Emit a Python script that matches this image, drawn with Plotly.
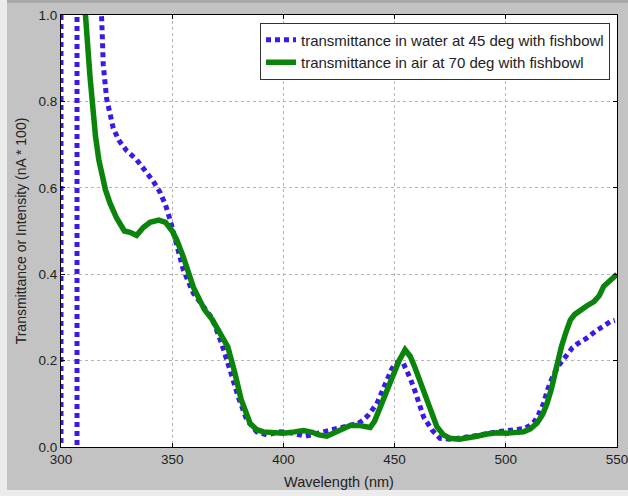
import plotly.graph_objects as go

# Data
water_x = [300, 300, 307.2, 307.2, 312, 315, 317, 318.3, 319, 320.5, 322, 323.5, 326, 329.5, 334, 338.5,
           341.5, 344.5, 347, 349, 352, 355, 359.5, 364, 367.7, 370, 372.2, 376, 379.7, 383.5, 388,
           392.5, 398.5, 403, 406, 410, 414, 418, 421.7, 426, 430, 433.7, 436, 438.2, 442, 444, 446.4,
           448.5, 450.2, 452, 453.9, 455.5, 457, 459, 461, 463, 466.7, 470.4, 475, 479.4, 484, 488.4,
           493, 497, 501, 504.9, 508.5, 510.9, 513, 514.6, 516.9, 519, 521.4, 524, 527.4, 530, 532,
           536.4, 540.9, 544, 547, 549]
water_y = [1.5, -0.5, -0.5, 2.0, 1.45, 1.2, 1.07, 0.99, 0.885, 0.807, 0.77, 0.738, 0.71, 0.686, 0.665,
           0.637, 0.615, 0.59, 0.56, 0.527, 0.463, 0.41, 0.356, 0.325, 0.30, 0.27, 0.24, 0.178, 0.116,
           0.063, 0.035, 0.028, 0.035, 0.033, 0.03, 0.025, 0.03, 0.035, 0.04, 0.045, 0.05, 0.055, 0.063,
           0.074, 0.10, 0.125, 0.155, 0.178, 0.194, 0.198, 0.194, 0.178, 0.159, 0.132, 0.10, 0.07, 0.04,
           0.02, 0.018, 0.02, 0.024, 0.028, 0.033, 0.036, 0.038, 0.04, 0.043, 0.05, 0.06, 0.074, 0.10,
           0.136, 0.167, 0.19, 0.213, 0.23, 0.238, 0.252, 0.27, 0.28, 0.29, 0.293]

air_x = [309.5, 311, 313, 314, 315.5, 317, 318.5, 320, 322, 325, 328.5, 331, 334, 337, 340, 344, 347,
         350, 352, 355, 359.5, 364.5, 368, 371, 375, 378, 381, 385, 388, 391, 395, 400, 405, 409, 413,
         416, 419.5, 424, 430, 434, 439, 441, 443.5, 446.5, 449.5, 452, 454.7, 457, 459, 461.5, 464.5,
         467, 469, 472, 475, 479, 482.5, 487, 491.5, 496, 500.5, 504, 508, 511, 514, 516.5, 518.5,
         520.5, 522, 523.5, 525, 527, 529, 531, 533.5, 536.5, 539.5, 542, 544, 546.5, 549, 550]
air_y = [1.25, 1.0, 0.86, 0.80, 0.72, 0.665, 0.625, 0.595, 0.565, 0.53, 0.50, 0.497, 0.49, 0.508, 0.52,
         0.525, 0.52, 0.50, 0.48, 0.44, 0.37, 0.318, 0.295, 0.268, 0.232, 0.175, 0.11, 0.055, 0.04,
         0.035, 0.033, 0.032, 0.035, 0.038, 0.034, 0.028, 0.025, 0.036, 0.05, 0.05, 0.045, 0.06, 0.093,
         0.13, 0.17, 0.20, 0.225, 0.21, 0.186, 0.15, 0.108, 0.07, 0.047, 0.028, 0.02, 0.018, 0.02, 0.025,
         0.03, 0.033, 0.032, 0.032, 0.035, 0.042, 0.055, 0.075, 0.10, 0.135, 0.17, 0.20, 0.232, 0.265,
         0.294, 0.307, 0.317, 0.327, 0.336, 0.35, 0.372, 0.385, 0.395, 0.40]

x_ticks = [300, 350, 400, 450, 500, 550]
y_ticks = [0.0, 0.2, 0.4, 0.6, 0.8, 1.0]
y_tick_text = ["0.0", "0.2", "0.4", "0.6", "0.8", "1.0"]

FONT = "Liberation Sans, Arial, sans-serif"

fig = go.Figure()
fig.add_trace(go.Scatter(
    x=water_x, y=water_y, mode="lines",
    name="transmittance in water at 45 deg with fishbowl",
    line=dict(color="#3a1ae6", width=5, dash="5px,4px"),
))
fig.add_trace(go.Scatter(
    x=air_x, y=air_y, mode="lines",
    name="transmittance in air at 70 deg with fishbowl",
    line=dict(color="#0a840a", width=5.5),
))

L, R, T, B = 61, 11, 15, 49
W, H = 628, 496
pw, ph = W - L - R, H - T - B


def px_x(p):
    return (p - L) / pw


def px_y(p):
    return (H - B - p) / ph


shapes = [
    dict(type="rect", xref="paper", yref="paper", x0=px_x(0), x1=px_x(7), y0=px_y(H), y1=px_y(0),
         fillcolor="#ececec", line_width=0, layer="below"),
    dict(type="rect", xref="paper", yref="paper", x0=px_x(0), x1=px_x(W), y0=px_y(H), y1=px_y(490),
         fillcolor="#ececec", line_width=0, layer="below"),
    dict(type="rect", xref="paper", yref="paper", x0=px_x(7), x1=px_x(W), y0=px_y(3), y1=px_y(0),
         fillcolor="#a9a9a9", line_width=0, layer="below"),
]

fig.update_layout(
    width=W, height=H,
    margin=dict(l=L, r=R, t=T, b=B),
    paper_bgcolor="#c3c3c3",
    plot_bgcolor="white",
    font=dict(family=FONT, size=13, color="#222222"),
    shapes=shapes,
    showlegend=True,
    legend=dict(
        x=px_x(610), y=px_y(22.5), xanchor="right", yanchor="top",
        bgcolor="white", bordercolor="#333333", borderwidth=1,
        font=dict(family=FONT, size=15, color="#222222"),
        tracegroupgap=0, itemwidth=30,
    ),
    xaxis=dict(
        range=[300, 550], tickvals=x_ticks, ticktext=[str(v) for v in x_ticks],
        automargin=False, ticklabeloverflow="allow",
        showline=True, linecolor="black", linewidth=1, mirror="ticks",
        ticks="inside", ticklen=4, tickcolor="black",
        showgrid=True, gridcolor="#b5b5b5", griddash="dot", gridwidth=1,
        zeroline=False,
        title=dict(text="Wavelength (nm)", font=dict(size=14.5), standoff=10),
        tickfont=dict(size=13.5),
    ),
    yaxis=dict(
        range=[0, 1.0], tickvals=y_ticks, ticktext=y_tick_text,
        automargin=False, ticklabeloverflow="allow",
        showline=True, linecolor="black", linewidth=1, mirror="ticks",
        ticks="inside", ticklen=4, tickcolor="black",
        showgrid=True, gridcolor="#b5b5b5", griddash="dot", gridwidth=1,
        zeroline=False,
        title=dict(text="Transmittance or Intensity (nA * 100)", font=dict(size=14), standoff=8),
        tickfont=dict(size=13.5),
    ),
)

fig.write_html("out.html")
